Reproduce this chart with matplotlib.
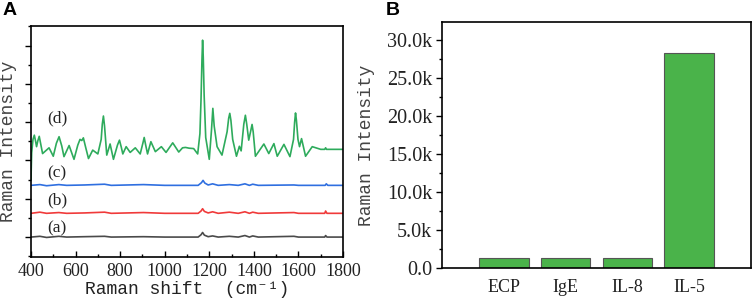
import numpy as np
import matplotlib
matplotlib.use("Agg")
import matplotlib.pyplot as plt
from matplotlib.ticker import MultipleLocator, FuncFormatter


# ---------------- panel A : spectra ----------------
d_x = [400, 403, 409, 415, 420, 425, 431, 437, 443, 452, 481, 500, 514, 526,
       538, 548, 571, 593, 610, 620, 628, 635, 645, 658, 677, 700, 715, 720,
       725, 730, 740, 755, 770, 788, 797, 805, 812, 827, 845, 868, 890, 902,
       908, 914, 923, 938, 958, 985, 1006, 1036, 1063, 1080, 1093, 1110, 1130,
       1148, 1158, 1163, 1167, 1170, 1173, 1177, 1184, 1200, 1210, 1216, 1222,
       1235, 1257, 1280, 1287, 1292, 1297, 1305, 1322, 1335, 1343, 1355, 1362,
       1368, 1377, 1387, 1392, 1397, 1407, 1445, 1467, 1490, 1505, 1535, 1562,
       1578, 1583, 1587, 1591, 1598, 1605, 1614, 1632, 1662, 1700, 1718, 1722,
       1726, 1800]
d_y = [1.50, 2.20, 2.55, 2.66, 2.52, 2.36, 2.52, 2.63, 2.45, 2.18, 2.33, 2.11,
       2.45, 2.62, 2.38, 2.10, 2.39, 2.03, 2.40, 2.55, 2.52, 2.59, 2.35, 2.05,
       2.27, 2.17, 2.55, 2.95, 3.16, 2.90, 2.14, 2.43, 2.03, 2.40, 2.53, 2.35,
       2.17, 2.36, 2.21, 2.33, 2.17, 2.45, 2.60, 2.42, 2.17, 2.49, 2.23, 2.36,
       2.21, 2.46, 2.22, 2.33, 2.34, 2.32, 2.31, 2.17, 2.70, 3.60, 4.60, 5.14,
       4.70, 3.70, 2.60, 2.03, 2.80, 3.36, 2.90, 2.36, 2.14, 2.75, 3.10, 3.23,
       3.05, 2.55, 2.11, 2.37, 2.25, 2.95, 3.18, 2.95, 2.53, 2.80, 2.94, 2.75,
       2.11, 2.43, 2.18, 2.44, 2.11, 2.42, 2.10, 2.55, 3.00, 3.24, 3.05, 2.55,
       2.36, 2.57, 2.11, 2.36, 2.29, 2.29, 2.33, 2.29, 2.29]

c_x = [400, 440, 470, 525, 560, 640, 730, 760, 905, 1000, 1150, 1165, 1172,
       1180, 1195, 1215, 1240, 1290, 1330, 1360, 1380, 1395, 1420, 1580, 1600,
       1720, 1725, 1732, 1800]
c_y = [1.35, 1.37, 1.34, 1.37, 1.35, 1.36, 1.38, 1.35, 1.37, 1.35, 1.35, 1.42,
       1.48, 1.41, 1.36, 1.39, 1.35, 1.37, 1.35, 1.39, 1.35, 1.38, 1.35, 1.36,
       1.35, 1.35, 1.39, 1.35, 1.35]

b_x = [400, 440, 470, 525, 560, 640, 730, 760, 905, 1000, 1150, 1163, 1170,
       1178, 1195, 1215, 1240, 1290, 1330, 1360, 1380, 1395, 1420, 1580, 1600,
       1718, 1722, 1728, 1800]
b_y = [0.62, 0.65, 0.62, 0.64, 0.62, 0.63, 0.65, 0.62, 0.64, 0.62, 0.62, 0.68,
       0.74, 0.67, 0.63, 0.66, 0.62, 0.65, 0.62, 0.66, 0.62, 0.65, 0.62, 0.64,
       0.62, 0.62, 0.68, 0.62, 0.62]

a_x = [400, 440, 470, 525, 560, 640, 730, 760, 905, 1000, 1150, 1163, 1170,
       1178, 1195, 1215, 1240, 1290, 1330, 1360, 1380, 1395, 1420, 1580, 1600,
       1718, 1722, 1728, 1800]
a_y = [0.00, 0.02, -0.01, 0.02, 0.00, 0.01, 0.02, 0.00, 0.01, 0.00, 0.00, 0.06,
       0.12, 0.05, 0.01, 0.03, 0.00, 0.02, 0.00, 0.04, 0.00, 0.03, 0.00, 0.02,
       0.00, 0.00, 0.04, 0.00, 0.00]

spec_labels = ["(a)", "(b)", "(c)", "(d)"]
label_y = [0.23, 0.97, 1.67, 3.11]

# ---------------- panel B : bars ----------------
markers = ["ECP", "IgE", "IL-8", "IL-5"]
intensity = [1300, 1300, 1300, 28300]

serif = "Liberation Serif"
mono = ["Liberation Mono", "DejaVu Sans Mono"]
txt = "#222222"

fig = plt.figure(figsize=(7.54, 3.07), dpi=100)

# ---- A ----
ax1 = fig.add_axes([0.0411, 0.1629, 0.4138, 0.7524])
ax1.plot(a_x, a_y, color="#4a4a4a", lw=1.2)
ax1.plot(b_x, b_y, color="#f03a3a", lw=1.2)
ax1.plot(c_x, c_y, color="#2f6fe0", lw=1.2)
ax1.plot(d_x, d_y, color="#2eab5c", lw=1.2)
for s, yy in zip(spec_labels, label_y):
    ax1.text(517, yy, s, ha="center", va="center", fontsize=12.5,
             family=serif, color=txt)

ax1.set_xlim(400, 1800)
ax1.set_ylim(-0.52, 5.51)
ax1.xaxis.set_major_locator(MultipleLocator(200))
ax1.xaxis.set_minor_locator(MultipleLocator(100))
ax1.yaxis.set_major_locator(MultipleLocator(1))
ax1.yaxis.set_minor_locator(MultipleLocator(0.5))
ax1.tick_params(axis="x", which="both", direction="in", pad=4)
ax1.tick_params(axis="y", which="both", direction="out", labelleft=False)
ax1.tick_params(which="major", length=4, width=1)
ax1.tick_params(which="minor", length=2.5, width=1)
for lab in ax1.get_xticklabels():
    lab.set_fontfamily(serif)
    lab.set_fontsize(13)
    lab.set_color(txt)
for sp in ax1.spines.values():
    sp.set_linewidth(1.2)
ax1.set_xlabel("Raman shift  (cm\u207b\u00b9)", family=mono, fontsize=13,
               color=txt, labelpad=1)
ax1.set_ylabel("Raman Intensity", family=mono, fontsize=13, color="#444444",
               labelpad=6)

# ---- B ----
ax2 = fig.add_axes([0.5862, 0.127, 0.4098, 0.8013])
pos = np.arange(len(markers))
ax2.bar(pos, intensity, width=0.8, color="#4ab34a", edgecolor="#555555",
        linewidth=0.8)
ax2.set_xlim(-1, 4)
ax2.set_ylim(0, 32400)
ax2.set_xticks(pos)
ax2.set_xticklabels(markers, family=serif, fontsize=13, color=txt)
ax2.tick_params(axis="x", length=0, pad=8)
ax2.yaxis.set_major_locator(MultipleLocator(5000))
ax2.yaxis.set_minor_locator(MultipleLocator(2500))
ax2.yaxis.set_major_formatter(FuncFormatter(
    lambda v, p: "0.0" if v == 0 else "%.1fk" % (v / 1000)))
ax2.tick_params(axis="y", which="major", direction="out", length=4, width=1,
                pad=3)
ax2.tick_params(axis="y", which="minor", direction="out", length=2.5, width=1)
for lab in ax2.get_yticklabels():
    lab.set_fontfamily(serif)
    lab.set_fontsize(14.5)
    lab.set_color(txt)
for sp in ax2.spines.values():
    sp.set_linewidth(1.2)
ax2.set_ylabel("Raman Intensity", family=mono, fontsize=13, color="#444444",
               labelpad=9)

fig.text(0.003, 0.995, "A", family="Liberation Sans", weight="bold",
         fontsize=14, va="top", ha="left")
fig.text(0.512, 0.995, "B", family="Liberation Sans", weight="bold",
         fontsize=14, va="top", ha="left")

fig.savefig("out.png", dpi=100)
